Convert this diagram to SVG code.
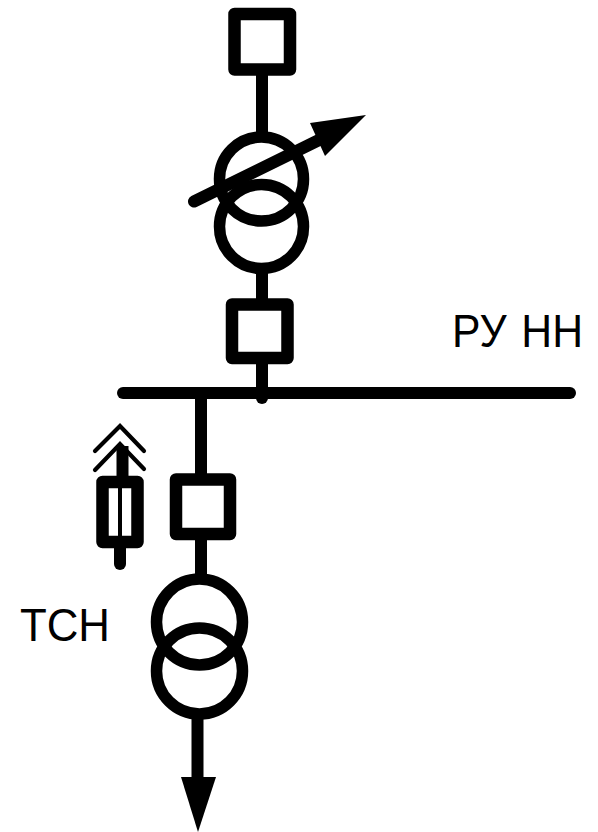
<svg xmlns="http://www.w3.org/2000/svg" width="598" height="832" viewBox="0 0 598 832">
<style>
.l{fill:none;stroke:#000;stroke-width:12}
.c{fill:none;stroke:#000;stroke-width:11.500}
.b{fill:none;stroke:#000;stroke-width:12.500;stroke-linejoin:round}
.h{fill:none;stroke:#000;stroke-width:4.200;stroke-linecap:round}
.t{font-family:"Liberation Sans",Arial,sans-serif;font-size:46px;fill:#000}
</style>
<rect width="598" height="832" fill="#fff"/>
<g id="connectors">
<path class="l" d="M262 70V136"/>
<path class="l" d="M262 270V304"/>
<path class="l" d="M262 358V398" stroke-linecap="round"/>
<path class="l" d="M123 393H570" stroke-linecap="round"/>
<path class="l" d="M201 393V480"/>
<path class="l" d="M201 534V578"/>
<path class="l" d="M197.500 714V780"/>
<path d="M181 777H216L198 832Z" fill="#000"/>
</g>
<g id="switch-top"><rect class="b" x="234.500" y="14" width="55.500" height="55.500"/></g>
<g id="transformer-main">
<circle class="c" cx="261.500" cy="179" r="42"/>
<circle class="c" cx="261.500" cy="226.500" r="42"/>
<path class="l" d="M194 201.500L318 140.500" stroke-linecap="round"/>
<path d="M310 123L366 115L325 156Z" fill="#000"/>
</g>
<g id="switch-mid"><rect class="b" x="232" y="304.500" width="55.500" height="53.500"/></g>
<g id="bus-label"><text class="t" x="452" y="347" word-spacing="3" textLength="131" lengthAdjust="spacingAndGlyphs">РУ НН</text></g>
<g id="switch-low"><rect class="b" x="176" y="479.500" width="54" height="54.500"/></g>
<g id="fuse">
<path class="l" d="M122.500 446V478"/>
<rect class="b" x="102.500" y="482" width="35" height="60"/>
<path d="M120 482V542" stroke="#000" stroke-width="4"/>
<path class="l" d="M120 542V564" stroke-linecap="round"/>
<path class="h" d="M95 451L120 426L144 451"/>
<path class="h" d="M95 470L120 444L144 469"/>
</g>
<g id="tsn">
<circle class="c" cx="199.500" cy="622" r="43"/>
<circle class="c" cx="199.500" cy="671" r="43"/>
<text class="t" x="20" y="641" textLength="90" lengthAdjust="spacingAndGlyphs">ТСН</text>
</g>
</svg>
